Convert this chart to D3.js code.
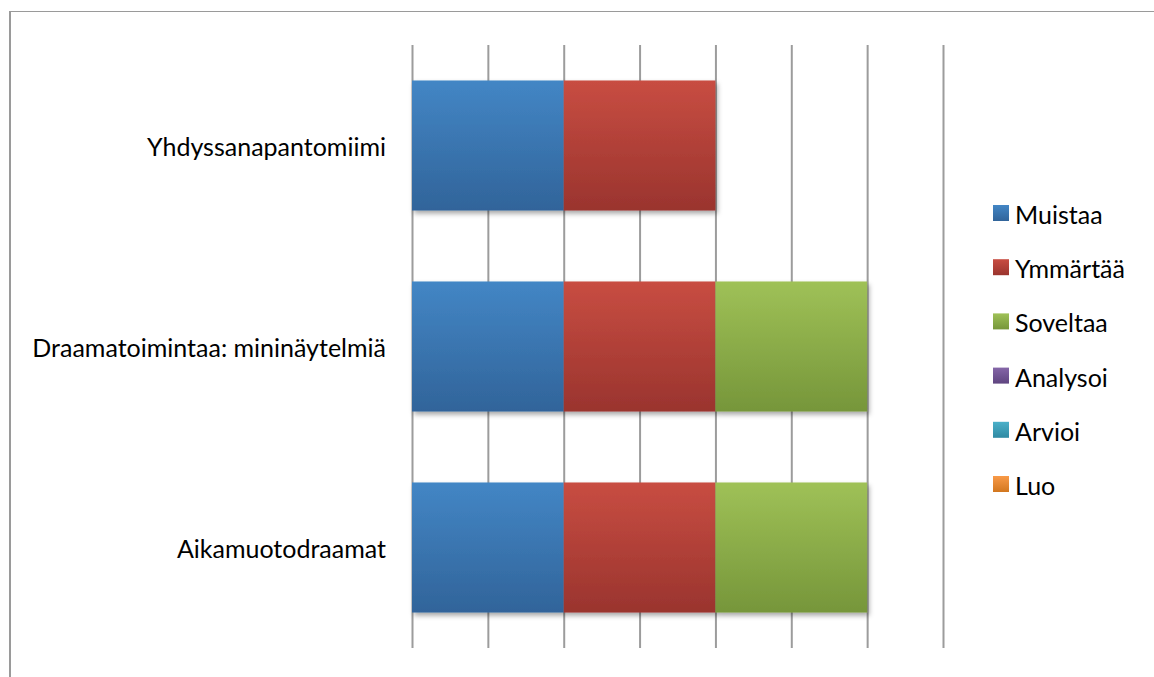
<!DOCTYPE html>
<html>
<head>
<meta charset="utf-8">
<script src="https://cdn.jsdelivr.net/npm/d3@7"></script>
<style>
  html, body { margin: 0; padding: 0; background: #ffffff; }
  svg { display: block; }
  text { font-family: Lato, "Open Sans", sans-serif; fill: #000; }
</style>
</head>
<body>
<svg id="chart" width="1154" height="677"></svg>
<script>
// Activities (top to bottom) and how many levels of the taxonomy each one reaches
const categories = ["Yhdyssanapantomiimi", "Draamatoimintaa: mininäytelmiä", "Aikamuotodraamat"];
const seriesNames = ["Muistaa", "Ymmärtää", "Soveltaa", "Analysoi", "Arvioi", "Luo"];
const muistaa  = [1, 1, 1];
const ymmartaa = [1, 1, 1];
const soveltaa = [0, 1, 1];
const analysoi = [0, 0, 0];
const arvioi   = [0, 0, 0];
const luo      = [0, 0, 0];
const tickValues = [0, 0.5, 1, 1.5, 2, 2.5, 3, 3.5];

const seriesValues = [muistaa, ymmartaa, soveltaa, analysoi, arvioi, luo];
const colorTop    = ["#4386c5", "#c84d42", "#9fc157", "#8566a8", "#4bb0c9", "#f99a48"];
const colorBottom = ["#31649a", "#9a342e", "#76963a", "#5f4580", "#2f8aa3", "#d2771f"];

const svg = d3.select("#chart");
const defs = svg.append("defs");

seriesNames.forEach((name, i) => {
  const g = defs.append("linearGradient")
    .attr("id", "grad" + i)
    .attr("x1", 0).attr("y1", 0).attr("x2", 0).attr("y2", 1);
  g.append("stop").attr("offset", "0%").attr("stop-color", colorTop[i]);
  g.append("stop").attr("offset", "100%").attr("stop-color", colorBottom[i]);
});

const shadow = defs.append("filter").attr("id", "barShadow")
  .attr("x", "-10%").attr("y", "-10%").attr("width", "130%").attr("height", "140%");
shadow.append("feDropShadow")
  .attr("dx", 2).attr("dy", 3).attr("stdDeviation", 2.5)
  .attr("flood-color", "#000").attr("flood-opacity", 0.35);

// Chart frame
svg.append("line").attr("x1", 10).attr("x2", 1154).attr("y1", 11.5).attr("y2", 11.5)
  .attr("stroke", "#9a9a9a").attr("stroke-width", 1.2);
svg.append("line").attr("x1", 10).attr("x2", 10).attr("y1", 11).attr("y2", 677)
  .attr("stroke", "#9a9a9a").attr("stroke-width", 2);

const plotTop = 45, plotBottom = 648;
const x = d3.scaleLinear().domain([0, 3.5]).range([412, 943]);
const y = d3.scaleBand().domain(categories).range([plotTop, plotBottom])
  .paddingInner(0.353).paddingOuter(0.1765);

// Vertical gridlines
const xAxis = d3.axisBottom(x).tickValues(tickValues).tickSize(-(plotBottom - plotTop)).tickFormat("");
const gx = svg.append("g").attr("transform", `translate(0,${plotBottom})`).call(xAxis);
gx.select(".domain").remove();
gx.selectAll(".tick line").attr("stroke", "#9c9c9c").attr("stroke-width", 2);

// Stacked bars
const rows = categories.map((c, ci) => {
  const r = { category: c };
  seriesNames.forEach((s, si) => { r[s] = seriesValues[si][ci]; });
  return r;
});
const stacked = d3.stack().keys(seriesNames)(rows);

const barsLayer = svg.append("g").attr("filter", "url(#barShadow)");
stacked.forEach((layer, si) => {
  barsLayer.selectAll(null)
    .data(layer.filter(d => d[1] - d[0] > 0))
    .enter().append("rect")
    .attr("x", d => x(d[0]))
    .attr("y", d => y(d.data.category))
    .attr("width", d => x(d[1]) - x(d[0]))
    .attr("height", y.bandwidth())
    .attr("fill", `url(#grad${si})`);
});

// Category labels
svg.append("g").selectAll("text")
  .data(categories).enter().append("text")
  .attr("x", 386)
  .attr("y", d => y(d) + y.bandwidth() / 2)
  .attr("dy", "0.42em")
  .attr("text-anchor", "end")
  .attr("font-size", 25)
  .text(d => d);

// Legend
const legend = svg.append("g").attr("transform", "translate(993,205)");
const item = legend.selectAll("g").data(seriesNames).enter().append("g")
  .attr("transform", (d, i) => `translate(0,${i * 54.2})`);
item.append("rect").attr("width", 16).attr("height", 16)
  .attr("fill", (d, i) => `url(#grad${i})`);
item.append("text").attr("x", 22).attr("y", 8).attr("dy", "0.44em")
  .attr("font-size", 25).text(d => d);
</script>
</body>
</html>
